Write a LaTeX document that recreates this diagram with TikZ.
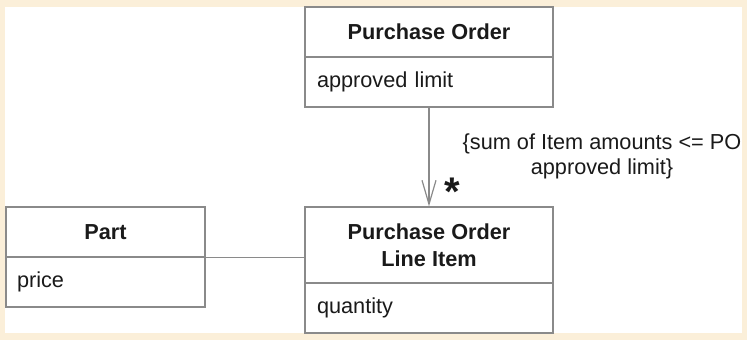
\documentclass[tikz,border=0pt]{standalone}
\usepackage{fontspec}
\setmainfont{Liberation Sans}
\usetikzlibrary{arrows.meta}
\definecolor{framebeige}{HTML}{FBEFD9}
\definecolor{linegray}{HTML}{8A8A8A}
\definecolor{inkblack}{HTML}{1A1A1A}
\newcommand\umlfs{\fontsize{21.7}{27.5}\selectfont}
\newcommand\umlnote{\fontsize{21.7}{25}\selectfont}
\tikzset{
  ctitle/.style={draw=linegray, line width=1.2pt, inner sep=0pt, align=center,
    font=\umlfs\bfseries, text=inkblack},
  cattr/.style={draw=linegray, line width=1.2pt, inner ysep=0pt, align=left,
    font=\umlfs, text=inkblack, text height=16pt, text depth=5pt},
  conn/.style={draw=linegray, line width=1.2pt},
}
\begin{document}
\begin{tikzpicture}[x=1pt,y=-1pt]
\useasboundingbox (0,0) rectangle (747,340);
\fill[framebeige] (0,0) rectangle (747,340);
\fill[white] (5,7) rectangle (742,333);
% Purchase Order
\node[ctitle, minimum width=248pt, minimum height=50pt] (po) at (429,32) {Purchase Order};
\node[cattr, minimum height=50pt, inner xsep=12pt, text width=224pt] (poa) at (429,82) {approved limit};
% Purchase Order Line Item
\node[ctitle, minimum width=248pt, minimum height=76pt] (li) at (429,245) {Purchase Order\\Line Item};
\node[cattr, minimum height=50pt, inner xsep=12pt, text width=224pt] (lia) at (429,308) {quantity};
% Part
\node[ctitle, minimum width=199pt, minimum height=50pt] (part) at (105.5,232) {Part};
\node[cattr, minimum height=50pt, inner xsep=11pt, text width=177pt] (parta) at (105.5,282) {price};
% connectors
\draw[conn, -{Straight Barb[length=24pt, width=14pt, line width=1.2pt]}] (poa.south) -- (li.north);
\draw[conn] (part.south east) -- (part.south east -| li.west);
% labels
\node[font=\fontsize{40}{40}\selectfont\bfseries, text=inkblack, inner sep=0pt] (mult) at (452.5,192) {*};
\node[font=\umlnote, align=center, text=inkblack, inner sep=0pt, anchor=base] (cons) at (602,174)
  {\{sum of Item amounts <= PO\\approved limit\}};
\end{tikzpicture}
\end{document}
